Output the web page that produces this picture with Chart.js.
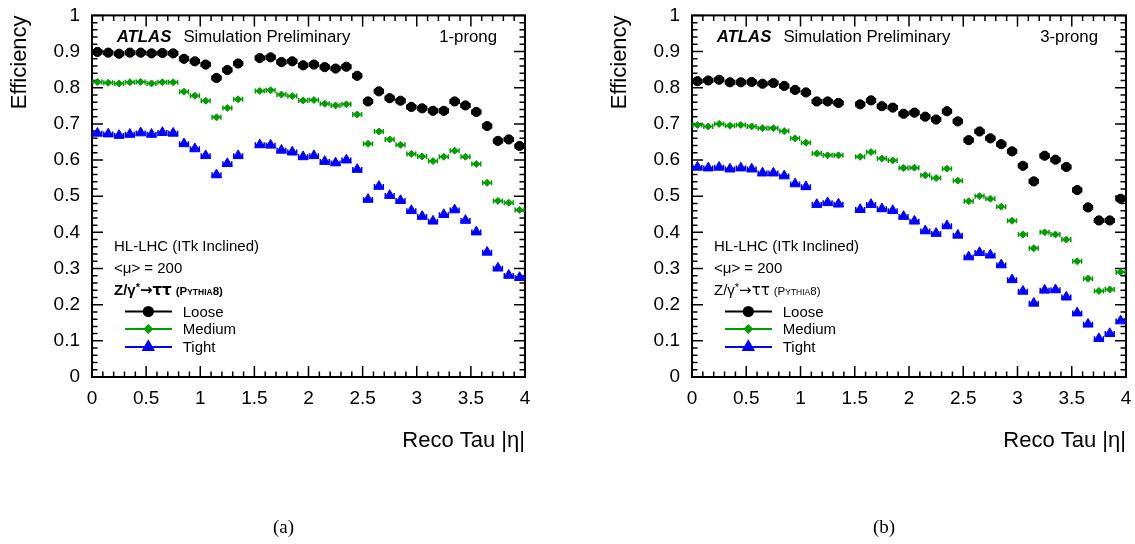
<!DOCTYPE html>
<html>
<head>
<meta charset="utf-8">
<script src="https://cdn.jsdelivr.net/npm/chart.js@4.4.1/dist/chart.umd.min.js"></script>
<style>
  html, body { margin: 0; padding: 0; background: #fff; }
  #page { position: relative; width: 1135px; height: 544px; overflow: hidden; }
  canvas { position: absolute; top: 0; }
  #c1 { left: 0; }
  #c2 { left: 600px; }
  .cap { position: absolute; top: 516px; line-height: 22px; font: 19px "Liberation Serif", "Times New Roman", serif; color: #000; }
</style>
</head>
<body>
<div id="page">
  <canvas id="c1" width="560" height="544"></canvas>
  <canvas id="c2" width="535" height="544"></canvas>
  <div class="cap" style="left:273px">(a)</div>
  <div class="cap" style="left:873px">(b)</div>
</div>
<script>
// bin centres in |eta| (bins of 0.1), one value per bin, null = empty bin
const etaBins = [0.05, 0.15, 0.25, 0.35, 0.45, 0.55, 0.65, 0.75, 0.85, 0.95,
                 1.05, 1.15, 1.25, 1.35, 1.45, 1.55, 1.65, 1.75, 1.85, 1.95,
                 2.05, 2.15, 2.25, 2.35, 2.45, 2.55, 2.65, 2.75, 2.85, 2.95,
                 3.05, 3.15, 3.25, 3.35, 3.45, 3.55, 3.65, 3.75, 3.85, 3.95];
const binHalfWidth = 0.05;

// (a) 1-prong
const loose1p  = [0.899, 0.897, 0.894, 0.897, 0.897, 0.895, 0.896, 0.895, 0.880, 0.873,
                  0.864, 0.827, 0.849, 0.867, null, 0.882, 0.884, 0.871, 0.873, 0.862,
                  0.864, 0.857, 0.853, 0.858, 0.833, 0.762, 0.790, 0.771, 0.764, 0.747,
                  0.743, 0.736, 0.736, 0.762, 0.751, 0.733, 0.694, 0.653, 0.657, 0.639];
const medium1p = [0.816, 0.814, 0.812, 0.815, 0.816, 0.812, 0.815, 0.815, 0.789, 0.778,
                  0.764, 0.718, 0.744, 0.768, null, 0.791, 0.793, 0.781, 0.777, 0.765,
                  0.766, 0.756, 0.751, 0.754, 0.726, 0.645, 0.679, 0.657, 0.642, 0.617,
                  0.610, 0.597, 0.609, 0.626, 0.609, 0.589, 0.537, 0.487, 0.482, 0.462];
const tight1p  = [0.674, 0.672, 0.668, 0.671, 0.675, 0.671, 0.676, 0.674, 0.645, 0.631,
                  0.612, 0.559, 0.590, 0.612, null, 0.642, 0.641, 0.627, 0.622, 0.609,
                  0.612, 0.596, 0.592, 0.600, 0.574, 0.491, 0.527, 0.502, 0.488, 0.460,
                  0.444, 0.431, 0.449, 0.462, 0.433, 0.401, 0.345, 0.301, 0.281, 0.275];

// (b) 3-prong
const loose3p  = [0.818, 0.820, 0.822, 0.815, 0.815, 0.816, 0.811, 0.813, 0.805, 0.794,
                  0.787, 0.762, 0.762, 0.758, null, 0.754, 0.765, 0.749, 0.745, 0.728,
                  0.731, 0.720, 0.712, 0.735, 0.707, 0.655, 0.679, 0.660, 0.644, 0.624,
                  0.584, 0.541, 0.612, 0.601, 0.581, 0.517, 0.469, 0.433, 0.433, 0.493];
const medium3p = [0.697, 0.693, 0.700, 0.695, 0.697, 0.693, 0.688, 0.688, 0.680, 0.660,
                  0.648, 0.618, 0.613, 0.613, null, 0.609, 0.622, 0.604, 0.599, 0.578,
                  0.579, 0.558, 0.550, 0.576, 0.543, 0.486, 0.500, 0.493, 0.471, 0.432,
                  0.394, 0.356, 0.400, 0.394, 0.380, 0.320, 0.272, 0.238, 0.242, 0.290];
const tight3p  = [0.580, 0.578, 0.580, 0.575, 0.578, 0.575, 0.564, 0.564, 0.556, 0.534,
                  0.526, 0.477, 0.482, 0.478, null, 0.463, 0.477, 0.465, 0.460, 0.444,
                  0.431, 0.404, 0.397, 0.418, 0.392, 0.332, 0.344, 0.337, 0.310, 0.269,
                  0.237, 0.204, 0.240, 0.241, 0.221, 0.177, 0.146, 0.106, 0.120, 0.155];

const wpNames = ['Loose', 'Medium', 'Tight'];
const xTitle = 'Reco Tau |η|';
const yTitle = 'Efficiency';

const FONT = '"Liberation Sans", Arial, Helvetica, sans-serif';
const GREEN = '#009c00';
const styles = [
    { color: '#000000', pointStyle: 'circle',   radius: 4.6 },
    { color: GREEN,     pointStyle: 'rectRot',  radius: 3.5 },
    { color: '#0000ff', pointStyle: 'triangle', radius: 5.8 }
];

const fmt = v => String(Math.round(v * 10) / 10);

function toPoints(values) {
    return etaBins.map((x, i) => ({ x: x, y: values[i] }));
}

function marker(ctx, st, x, y) {
    ctx.fillStyle = st.color;
    ctx.strokeStyle = st.color;
    if (Chart.helpers && Chart.helpers.drawPoint) {
        Chart.helpers.drawPoint(ctx, { pointStyle: st.pointStyle, radius: st.radius, rotation: 0, borderWidth: 1 }, x, y);
    } else {
        ctx.beginPath();
        ctx.arc(x, y, st.radius, 0, Math.PI * 2);
        ctx.fill();
    }
}

// frame, inward ticks and horizontal bin-width bars (ROOT look)
const atlasFrame = {
    id: 'atlasFrame',
    beforeDatasetsDraw(chart) {
        const { ctx, chartArea: a, scales: { x, y } } = chart;
        ctx.save();
        ctx.strokeStyle = '#000';
        ctx.lineWidth = 1.5;
        ctx.beginPath();
        for (let i = 0; i <= 40; i++) {
            const px = x.getPixelForValue(i / 10);
            const len = i % 5 === 0 ? 11 : 5.5;
            ctx.moveTo(px, a.bottom); ctx.lineTo(px, a.bottom - len);
            ctx.moveTo(px, a.top); ctx.lineTo(px, a.top + len);
        }
        for (let i = 0; i <= 50; i++) {
            const py = y.getPixelForValue(i / 50);
            const len = i % 5 === 0 ? 11 : 5.5;
            ctx.moveTo(a.left, py); ctx.lineTo(a.left + len, py);
            ctx.moveTo(a.right, py); ctx.lineTo(a.right - len, py);
        }
        ctx.stroke();
        ctx.lineWidth = 2;
        ctx.strokeRect(a.left, a.top, a.right - a.left, a.bottom - a.top);

        // error bars along x
        chart.data.datasets.forEach(ds => {
            ctx.strokeStyle = ds.borderColor;
            ctx.lineWidth = 1.5;
            ctx.beginPath();
            ds.data.forEach(p => {
                if (p.y === null) return;
                const x0 = x.getPixelForValue(p.x - binHalfWidth);
                const x1 = x.getPixelForValue(p.x + binHalfWidth);
                const py = y.getPixelForValue(p.y);
                ctx.moveTo(x0 + 1, py); ctx.lineTo(x1 - 1, py);
                ctx.moveTo(x0 + 1, py - 2.5); ctx.lineTo(x0 + 1, py + 2.5);
                ctx.moveTo(x1 - 1, py - 2.5); ctx.lineTo(x1 - 1, py + 2.5);
            });
            ctx.stroke();
        });
        ctx.restore();
    }
};

function drawRuns(ctx, x, y, runs) {
    runs.forEach(r => {
        ctx.font = r.font;
        ctx.fillText(r.t, x, y + (r.dy || 0));
        x += ctx.measureText(r.t).width + (r.gap || 0);
    });
}

// ATLAS label, sample text and legend
const atlasLabels = {
    id: 'atlasLabels',
    afterDraw(chart, args, opts) {
        const { ctx, chartArea: a } = chart;
        ctx.save();
        ctx.fillStyle = '#000';
        ctx.textBaseline = 'alphabetic';
        ctx.textAlign = 'left';

        // ATLAS Simulation Preliminary
        ctx.font = 'italic bold 16.8px ' + FONT;
        const ax = a.left + 24.7;
        ctx.fillText('ATLAS', ax, 42);
        const aw = ctx.measureText('ATLAS').width;
        ctx.font = '16.8px ' + FONT;
        ctx.fillText('Simulation Preliminary', ax + aw + 12, 42);

        ctx.textAlign = 'right';
        ctx.fillText(opts.prong, a.right - 28, 42);
        ctx.textAlign = 'left';

        const tx = a.left + 22;
        ctx.font = '15px ' + FONT;
        ctx.fillText('HL-LHC (ITk Inclined)', tx, 250.5);
        ctx.fillText('<μ> = 200', tx, 273);

        const b = opts.bold ? 'bold ' : '';
        drawRuns(ctx, tx, 294.5, [
            { t: 'Z/γ', font: b + '15px ' + FONT },
            { t: '*', font: b + '11px ' + FONT, dy: -4 },
            { t: '→ττ', font: b + '15px "DejaVu Sans", ' + FONT, gap: 4 },
            { t: '(P', font: b + '11.5px ' + FONT },
            { t: 'YTHIA', font: b + '8.5px ' + FONT },
            { t: '8)', font: b + '11.5px ' + FONT }
        ]);

        // legend
        const rows = [311.5, 329, 347];
        chart.data.datasets.forEach((ds, i) => {
            const st = styles[i];
            const ly = rows[i];
            ctx.strokeStyle = st.color;
            ctx.lineWidth = 2;
            ctx.beginPath();
            ctx.moveTo(a.left + 33, ly);
            ctx.lineTo(a.left + 80, ly);
            ctx.stroke();
            marker(ctx, st, a.left + 56.3, ly);
            ctx.fillStyle = '#000';
            ctx.font = '15px ' + FONT;
            ctx.fillText(ds.label, a.left + 90.7, ly + 5.4);
        });
        ctx.restore();
    }
};

function makeChart(id, series, prong, bold, padRight) {
    const datasets = series.map((vals, i) => ({
        label: wpNames[i],
        data: toPoints(vals),
        pointStyle: styles[i].pointStyle,
        pointRadius: styles[i].radius,
        pointHoverRadius: styles[i].radius,
        backgroundColor: styles[i].color,
        borderColor: styles[i].color,
        borderWidth: 1,
        showLine: false,
        clip: false
    }));

    return new Chart(document.getElementById(id), {
        type: 'scatter',
        data: { datasets: datasets },
        options: {
            responsive: false,
            animation: false,
            layout: { padding: { left: 0, right: padRight, top: 13, bottom: 87 } },
            plugins: {
                legend: { display: false },
                tooltip: { enabled: false },
                atlasLabels: { prong: prong, bold: bold }
            },
            scales: {
                x: {
                    type: 'linear',
                    min: 0,
                    max: 4,
                    grid: { display: false },
                    border: { display: false },
                    ticks: {
                        stepSize: 0.5,
                        padding: 2,
                        maxRotation: 0,
                        autoSkip: false,
                        color: '#000',
                        font: { family: FONT, size: 19 },
                        callback: v => fmt(v)
                    },
                    title: {
                        display: true,
                        text: xTitle,
                        align: 'end',
                        color: '#000',
                        font: { family: FONT, size: 22 },
                        padding: { top: 0, bottom: 3 }
                    },
                    afterFit: s => { s.height = 80; }
                },
                y: {
                    type: 'linear',
                    min: 0,
                    max: 1,
                    grid: { display: false },
                    border: { display: false },
                    ticks: {
                        stepSize: 0.1,
                        padding: 4,
                        color: '#000',
                        font: { family: FONT, size: 19 },
                        callback: v => fmt(v)
                    },
                    title: {
                        display: true,
                        text: yTitle,
                        align: 'end',
                        color: '#000',
                        font: { family: FONT, size: 22 },
                        padding: { top: 7, bottom: 0 }
                    },
                    afterFit: s => { s.width = 92; }
                }
            }
        },
        plugins: [atlasFrame, atlasLabels]
    });
}

makeChart('c1', [loose1p, medium1p, tight1p], '1-prong', true, 35);
makeChart('c2', [loose3p, medium3p, tight3p], '3-prong', false, 9);
</script>
</body>
</html>
